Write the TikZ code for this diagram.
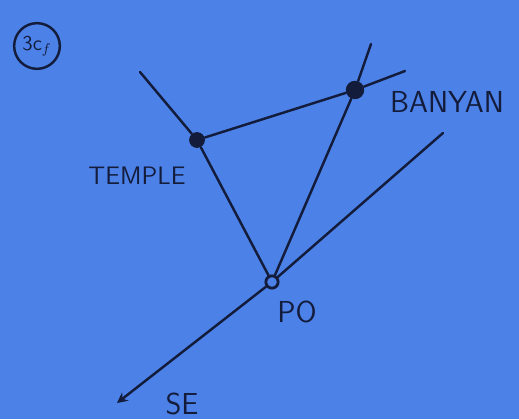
\documentclass[tikz,border=0pt]{standalone}
\usepackage{tikz}
\usetikzlibrary{arrows.meta}
\definecolor{board}{RGB}{76,130,232}
\definecolor{ink}{RGB}{20,28,60}
\tikzset{
    every node/.style = {font=\Large\sffamily, text=ink},
    road/.style = {draw=ink, line width=1.4pt, line cap=round},
    spot/.style = {circle, fill=ink, minimum size=9pt, inner sep=0pt},
    junction/.style = {circle, draw=ink, line width=1.6pt, minimum size=7pt, inner sep=0pt}
}

\begin{document}
\begin{tikzpicture}[x=0.02cm, y=-0.02cm]
    \fill[board] (0,0) rectangle (519,419);
    \useasboundingbox (0,0) rectangle (519,419);
    % places
    \node[spot] (temple) at (197,140) {};
    \node[spot, minimum size=10.5pt] (banyan) at (355,90) {};
    \node[junction] (po) at (272,282) {};
    % loose ends of the roads
    \coordinate (templeend) at (140,72);
    \coordinate (banyanend) at (405,71);
    \coordinate (northend) at (371,44);
    \coordinate (northeast) at (443,133);
    \coordinate (seend) at (117,403);
    % roads
    \draw[road] (templeend) -- (temple) -- (po);
    \draw[road] (temple) -- (banyan) -- (banyanend);
    \draw[road] (northend) -- (banyan) -- (po);
    \draw[road] (northeast) -- (po);
    \draw[road, -{Stealth[length=6pt, width=6pt]}] (po) -- (seend);
    % labels
    \node[draw=ink, circle, line width=1.4pt, minimum size=26pt, inner sep=0pt, font=\large\sffamily] (tag) at (37,46) {3c$_f$};
    \node[font=\Large\sffamily] (templelabel) at (137,176) {TEMPLE};
    \node[font=\LARGE\sffamily] (banyanlabel) at (447,102) {BANYAN};
    \node[font=\LARGE\sffamily] (polabel) at (297,312) {PO};
    \node[font=\LARGE\sffamily] (selabel) at (182,404) {SE};
\end{tikzpicture}
\end{document}
